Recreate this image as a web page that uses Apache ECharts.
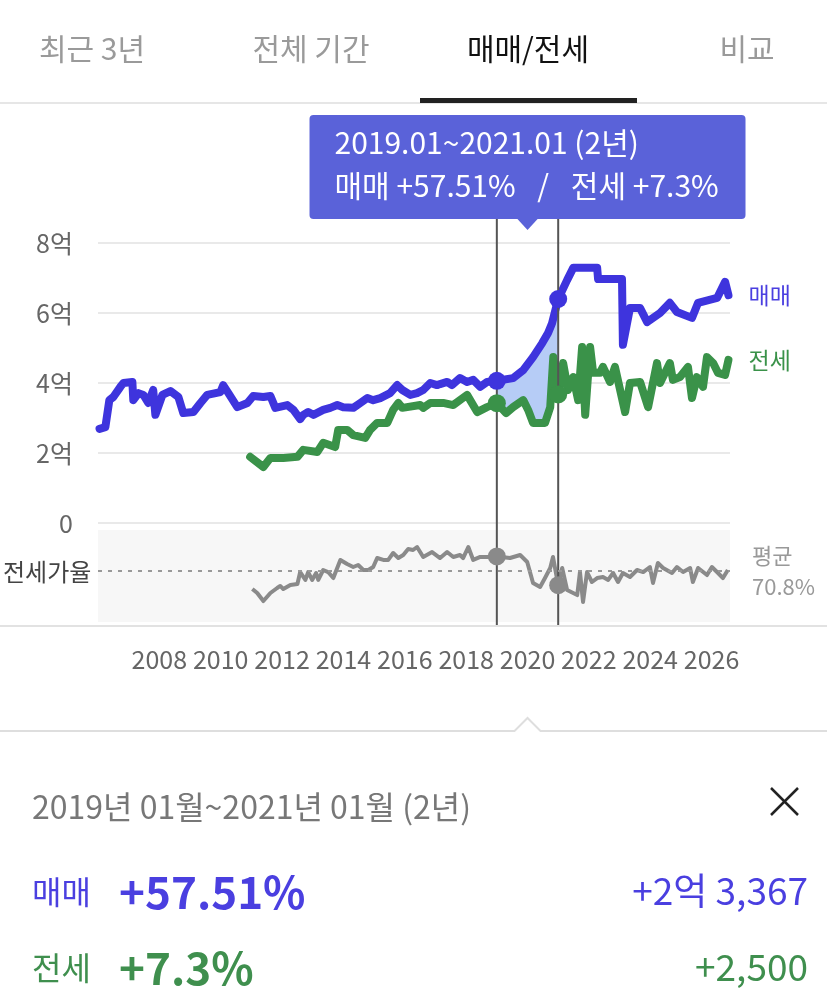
<!DOCTYPE html>
<html>
<head>
<meta charset="utf-8">
<script src="https://cdn.jsdelivr.net/npm/echarts/dist/echarts.min.js"></script>
<style>
  html, body { margin: 0; padding: 0; background: #fff; }
  body { width: 827px; height: 1007px; position: relative; overflow: hidden;
         font-family: "Noto Sans CJK KR", "Noto Sans", sans-serif; }
  #chart { position: absolute; left: 0; top: 0; width: 827px; height: 1007px; }
  .t { position: absolute; white-space: nowrap; }
  .tab { position: absolute; top: 27px; height: 40px; line-height: 40px; font-size: 30px;
         color: #9a9a9a; transform: translateX(-50%); }
</style>
</head>
<body>
<div id="chart"></div>

<div class="tab" style="left:92px">최근 3년</div>
<div class="tab" style="left:311px">전체 기간</div>
<div class="tab" style="left:528px;color:#111">매매/전세</div>
<div class="tab" style="left:747px">비교</div>
<div class="t" style="left:0;top:102px;width:827px;height:2px;background:#e6e6e6"></div>
<div class="t" style="left:420px;top:98px;width:217px;height:5px;background:#222"></div>

<div class="t" style="left:3px;top:555px;height:32px;line-height:32px;font-size:24px;color:#444">전세가율</div>

<div class="t" style="left:32px;top:785px;height:40px;line-height:40px;font-size:32px;color:#777">2019년 01월~2021년 01월 (2년)</div>
<div class="t" style="left:32px;top:868px;height:44px;line-height:44px;font-size:32px;color:#4a3fe0">매매</div>
<div class="t" style="left:119px;top:864px;height:52px;line-height:52px;font-size:44px;font-weight:bold;color:#4a3fe0">+57.51%</div>
<div class="t" style="right:19px;top:867px;height:44px;line-height:44px;font-size:37px;color:#4a3fe0">+2억 3,367</div>
<div class="t" style="left:32px;top:944px;height:44px;line-height:44px;font-size:32px;color:#3f8f4e">전세</div>
<div class="t" style="left:119px;top:940px;height:52px;line-height:52px;font-size:44px;font-weight:bold;color:#3f8f4e">+7.3%</div>
<div class="t" style="right:19px;top:943px;height:44px;line-height:44px;font-size:37px;color:#3f8f4e">+2,500</div>

<script>
// ---- data (억 원, 연도 소수) ----
const saleSeries = [
  [2006.05, 2.69], [2006.24, 2.74], [2006.37, 3.51], [2006.50, 3.60], [2006.73, 3.89],
  [2006.83, 4.00], [2007.12, 4.03], [2007.15, 3.51], [2007.32, 3.71], [2007.48, 3.66],
  [2007.64, 3.43], [2007.80, 3.80], [2007.87, 3.09], [2008.10, 3.66], [2008.36, 3.77],
  [2008.62, 3.60], [2008.78, 3.14], [2009.11, 3.17], [2009.34, 3.43], [2009.56, 3.66],
  [2009.99, 3.74], [2010.08, 3.94], [2010.25, 3.71], [2010.54, 3.31], [2010.87, 3.43],
  [2011.06, 3.63], [2011.39, 3.60], [2011.62, 3.63], [2011.78, 3.29], [2012.17, 3.37],
  [2012.37, 3.23], [2012.59, 2.97], [2012.69, 3.09], [2012.85, 3.17], [2013.02, 3.09],
  [2013.34, 3.23], [2013.57, 3.29], [2013.80, 3.37], [2013.99, 3.31], [2014.32, 3.29],
  [2014.55, 3.43], [2014.78, 3.57], [2014.97, 3.51], [2015.20, 3.57], [2015.52, 3.71],
  [2015.75, 3.94], [2015.92, 3.80], [2016.18, 3.66], [2016.40, 3.71], [2016.60, 3.80],
  [2016.83, 4.00], [2017.05, 3.94], [2017.15, 3.97], [2017.38, 4.03], [2017.54, 3.94],
  [2017.80, 4.14], [2018.03, 4.03], [2018.23, 4.09], [2018.46, 3.89], [2018.68, 4.03],
  [2019.00, 4.063], [2019.53, 4.14], [2019.86, 4.37], [2020.18, 4.74], [2020.48, 5.14],
  [2020.67, 5.43], [2020.80, 5.71], [2021.00, 6.40], [2021.29, 6.94], [2021.49, 7.29],
  [2022.27, 7.29], [2022.30, 6.97], [2023.08, 6.97], [2023.11, 5.09], [2023.34, 6.14],
  [2023.67, 6.14], [2023.90, 5.74], [2024.32, 6.00], [2024.64, 6.29], [2024.87, 6.03],
  [2025.36, 5.86], [2025.56, 6.29], [2026.18, 6.43], [2026.44, 6.89], [2026.55, 6.51]
];
const jeonseSeries = [
  [2010.96, 1.89], [2011.39, 1.60], [2011.62, 1.86], [2012.04, 1.86], [2012.50, 1.89],
  [2012.69, 2.09], [2013.15, 2.03], [2013.34, 2.29], [2013.73, 2.17], [2013.83, 2.66],
  [2014.12, 2.66], [2014.32, 2.51], [2014.71, 2.43], [2014.87, 2.66], [2015.10, 2.86],
  [2015.43, 2.86], [2015.62, 3.23], [2015.79, 3.43], [2015.92, 3.29], [2016.50, 3.37],
  [2016.60, 3.29], [2016.83, 3.43], [2017.25, 3.43], [2017.58, 3.37], [2018.03, 3.66],
  [2018.36, 3.17], [2018.68, 3.31], [2019.00, 3.425], [2019.30, 3.14], [2019.53, 3.31],
  [2019.86, 3.51], [2020.02, 3.23], [2020.18, 2.86], [2020.57, 2.86], [2020.74, 3.31],
  [2020.84, 4.74], [2021.00, 3.675], [2021.16, 4.57], [2021.32, 3.80], [2021.49, 4.17],
  [2021.65, 3.51], [2021.78, 5.03], [2021.88, 3.09], [2022.04, 5.03], [2022.14, 4.29],
  [2022.36, 4.29], [2022.46, 4.46], [2022.69, 4.03], [2022.85, 4.46], [2023.18, 3.17],
  [2023.34, 4.00], [2023.67, 4.03], [2023.93, 3.31], [2024.22, 4.57], [2024.32, 4.00],
  [2024.64, 4.57], [2024.74, 4.09], [2024.97, 4.17], [2025.23, 4.46], [2025.36, 3.57],
  [2025.52, 4.17], [2025.72, 3.89], [2025.85, 4.74], [2026.05, 4.57], [2026.21, 4.29],
  [2026.44, 4.23], [2026.55, 4.66]
];
const ratioSeries = [
  [2011.03, 53.8], [2011.19, 50.1], [2011.39, 42.6], [2011.62, 50.1], [2011.84, 54.8],
  [2011.94, 56.7], [2012.04, 53.8], [2012.27, 57.6], [2012.50, 58.5], [2012.59, 69.7],
  [2012.76, 62.3], [2012.85, 69.7], [2012.98, 62.3], [2013.11, 68.8], [2013.18, 62.3],
  [2013.34, 71.6], [2013.50, 69.7], [2013.67, 64.1], [2013.90, 81.0], [2014.12, 77.2],
  [2014.32, 74.4], [2014.48, 76.3], [2014.65, 71.6], [2014.81, 71.6], [2014.97, 74.4],
  [2015.10, 82.8], [2015.30, 81.0], [2015.46, 81.0], [2015.62, 87.5], [2015.79, 82.8],
  [2015.95, 85.6], [2016.11, 91.2], [2016.27, 90.3], [2016.40, 93.1], [2016.60, 83.8],
  [2016.89, 88.4], [2017.15, 82.8], [2017.38, 88.4], [2017.58, 83.8], [2017.80, 85.6],
  [2017.90, 82.8], [2018.07, 93.1], [2018.23, 81.0], [2018.46, 83.8], [2018.68, 83.8],
  [2019.00, 84.3], [2019.43, 82.8], [2019.76, 85.6], [2019.99, 79.1], [2020.18, 59.5],
  [2020.41, 55.7], [2020.57, 64.1], [2020.74, 73.5], [2020.83, 83.8], [2021.00, 57.4],
  [2021.13, 73.5], [2021.29, 52.9], [2021.62, 48.2], [2021.71, 69.7], [2021.81, 41.7],
  [2021.94, 69.7], [2022.10, 60.4], [2022.27, 64.1], [2022.46, 65.1], [2022.63, 62.3],
  [2022.79, 68.8], [2022.95, 60.4], [2023.11, 68.8], [2023.34, 65.1], [2023.57, 71.6],
  [2023.77, 69.7], [2023.99, 74.4], [2024.09, 59.5], [2024.25, 78.2], [2024.42, 73.5],
  [2024.71, 68.8], [2024.87, 74.4], [2025.07, 69.7], [2025.30, 73.5], [2025.39, 60.4],
  [2025.56, 73.5], [2025.85, 66.9], [2026.01, 74.4], [2026.21, 68.8], [2026.37, 64.1],
  [2026.53, 71.6]
];
const yearTicks = [2008, 2010, 2012, 2014, 2016, 2018, 2020, 2022, 2024, 2026];
const priceTicks = [0, 2, 4, 6, 8];
const averageRatio = 70.8;
const rangeStart = 2019;
const rangeEnd = 2021;
const tooltipLine1 = '2019.01~2021.01 (2년)';
const tooltipLine2 = '매매 +57.51% \u2002/\u2002 전세 +7.3%';

const BLUE = '#3e34dd', GREEN = '#3a9249', GRAY = '#8a8a8a';
const FONT = '"Noto Sans CJK KR", "Noto Sans", sans-serif';

function pick(series, year) {
  return series.find(p => Math.abs(p[0] - year) < 1e-6);
}
function inRange(series) {
  return series.filter(p => p[0] >= rangeStart - 1e-6 && p[0] <= rangeEnd + 1e-6);
}

const chart = echarts.init(document.getElementById('chart'), null, { renderer: 'canvas' });

const xMin = 2006, xMax = 2026.6;
const option = {
  animation: false,
  textStyle: { fontFamily: FONT },
  grid: [
    { left: 98, width: 632, top: 243, height: 280 },
    { left: 98, width: 632, top: 530, height: 92, show: true, backgroundColor: '#f7f7f7', borderWidth: 0 }
  ],
  xAxis: [
    { type: 'value', gridIndex: 0, min: xMin, max: xMax, show: false },
    { type: 'value', gridIndex: 1, min: xMin, max: xMax, interval: 2,
      axisLine: { show: false }, axisTick: { show: false }, splitLine: { show: false },
      axisLabel: { margin: 25, fontSize: 25, color: '#666', fontFamily: FONT,
        showMinLabel: true, showMaxLabel: true,
        formatter: v => (yearTicks.indexOf(Math.round(v)) >= 0 && Math.abs(v - Math.round(v)) < 1e-6) ? String(Math.round(v)) : '' } }
  ],
  yAxis: [
    { type: 'value', gridIndex: 0, min: priceTicks[0], max: priceTicks[priceTicks.length - 1], interval: 2,
      axisLine: { show: false }, axisTick: { show: false },
      splitLine: { lineStyle: { color: '#e9e9e9', width: 2 } },
      axisLabel: { margin: 25, fontSize: 25, color: '#666', fontFamily: FONT,
        formatter: v => v === 0 ? '0' : v + '억' } },
    { type: 'value', gridIndex: 1, min: 23, max: 109, show: false, splitLine: { show: false } }
  ],
  series: [
    {
      type: 'custom', xAxisIndex: 0, yAxisIndex: 0, z: 1, silent: true,
      data: [[rangeStart, 0]],
      renderItem: function (params, api) {
        const top = inRange(saleSeries).map(p => api.coord(p));
        const bottom = inRange(jeonseSeries).reverse().map(p => api.coord(p));
        return { type: 'polygon', shape: { points: top.concat(bottom) },
          style: { fill: '#b6ccf6', stroke: null } };
      }
    },
    {
      name: '전세', type: 'line', xAxisIndex: 0, yAxisIndex: 0, data: jeonseSeries,
      showSymbol: false, z: 2,
      lineStyle: { color: GREEN, width: 8, cap: 'round', join: 'round' },
      itemStyle: { color: GREEN },
      endLabel: { show: true, formatter: '전세', color: GREEN, fontSize: 23, distance: 20, fontFamily: FONT }
    },
    {
      name: '매매', type: 'line', xAxisIndex: 0, yAxisIndex: 0, data: saleSeries,
      showSymbol: false, z: 3,
      lineStyle: { color: BLUE, width: 8, cap: 'round', join: 'round' },
      itemStyle: { color: BLUE },
      endLabel: { show: true, formatter: '매매', color: '#4a3fe0', fontSize: 23, distance: 20, fontFamily: FONT }
    },
    {
      name: '전세가율', type: 'line', xAxisIndex: 1, yAxisIndex: 1, data: ratioSeries,
      showSymbol: false, z: 2,
      lineStyle: { color: GRAY, width: 4, join: 'round' },
      markLine: {
        silent: true, symbol: ['none', 'none'],
        lineStyle: { color: '#999', width: 2, type: [4, 6] },
        label: { position: 'end', distance: 22, formatter: '평균\n70.8%', color: '#999',
                 fontSize: 22, lineHeight: 31, fontFamily: FONT, align: 'left' },
        data: [{ yAxis: averageRatio }]
      }
    },
    {
      type: 'scatter', xAxisIndex: 0, yAxisIndex: 0, z: 6, symbolSize: 18,
      itemStyle: { color: BLUE, opacity: 1 },
      data: [pick(saleSeries, rangeStart), pick(saleSeries, rangeEnd)]
    },
    {
      type: 'scatter', xAxisIndex: 0, yAxisIndex: 0, z: 6, symbolSize: 18,
      itemStyle: { color: GREEN, opacity: 1 },
      data: [pick(jeonseSeries, rangeStart), pick(jeonseSeries, rangeEnd)]
    },
    {
      type: 'scatter', xAxisIndex: 1, yAxisIndex: 1, z: 6, symbolSize: 18,
      itemStyle: { color: GRAY, opacity: 1 },
      data: [pick(ratioSeries, rangeStart), pick(ratioSeries, rangeEnd)]
    }
  ]
};
chart.setOption(option);

const px1 = chart.convertToPixel({ xAxisIndex: 0 }, rangeStart);
const px2 = chart.convertToPixel({ xAxisIndex: 0 }, rangeEnd);
const mid = (px1 + px2) / 2;
const boxW = 436, boxTop = 115, boxH = 104;

chart.setOption({
  graphic: [
    { type: 'line', z: 4, silent: true, shape: { x1: px1, y1: boxTop + boxH, x2: px1, y2: 626 },
      style: { stroke: '#555', lineWidth: 2 } },
    { type: 'line', z: 4, silent: true, shape: { x1: px2, y1: boxTop + boxH, x2: px2, y2: 626 },
      style: { stroke: '#555', lineWidth: 2 } },
    { type: 'line', z: 4, silent: true, shape: { x1: 0, y1: 626, x2: 827, y2: 626 },
      style: { stroke: '#e2e2e2', lineWidth: 2 } },
    { type: 'rect', z: 10, silent: true,
      shape: { x: mid - boxW / 2, y: boxTop, width: boxW, height: boxH, r: 4 },
      style: { fill: '#5a62d9' } },
    { type: 'polygon', z: 10, silent: true,
      shape: { points: [[mid - 11, boxTop + boxH - 1], [mid + 11, boxTop + boxH - 1], [mid, boxTop + boxH + 11]] },
      style: { fill: '#5a62d9' } },
    { type: 'text', z: 11, silent: true, x: mid - boxW / 2 + 25, y: boxTop + 28,
      style: { text: tooltipLine1, fill: '#fff', font: '30px ' + FONT, verticalAlign: 'middle' } },
    { type: 'text', z: 11, silent: true, x: mid - boxW / 2 + 25, y: boxTop + 71,
      style: { text: tooltipLine2, fill: '#fff', font: '30px ' + FONT, verticalAlign: 'middle' } },
    { type: 'polyline', z: 4, silent: true,
      shape: { points: [[0, 731], [mid - 13, 731], [mid, 718], [mid + 13, 731], [827, 731]] },
      style: { stroke: '#dedede', lineWidth: 2, fill: null } },
    { type: 'line', z: 4, silent: true, shape: { x1: 771, y1: 788, x2: 798, y2: 815 },
      style: { stroke: '#222', lineWidth: 2.5 } },
    { type: 'line', z: 4, silent: true, shape: { x1: 798, y1: 788, x2: 771, y2: 815 },
      style: { stroke: '#222', lineWidth: 2.5 } }
  ]
});
</script>
</body>
</html>
